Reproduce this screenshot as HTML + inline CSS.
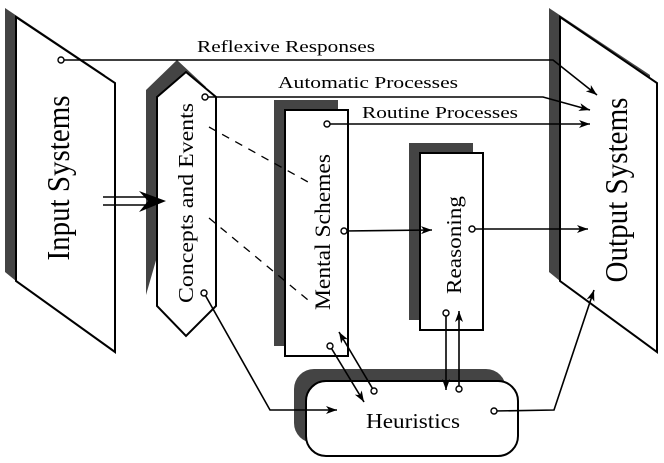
<!DOCTYPE html>
<html><head><meta charset="utf-8"><style>html,body{margin:0;padding:0;background:#fff}svg{display:block}text{font-family:"Liberation Serif","DejaVu Serif",serif;fill:#000}</style></head><body>
<svg width="664" height="463" viewBox="0 0 664 463" xmlns="http://www.w3.org/2000/svg">
<defs>
<marker id="a" markerWidth="12" markerHeight="8" refX="11" refY="4" orient="auto" markerUnits="userSpaceOnUse"><path d="M0,0 L11,4 L0,8 L3,4 Z" fill="#000"/></marker>
</defs>
<polygon points="5,8 105,75 105,90 16,281 5,272" fill="#444"/>
<polygon points="16,17 115,83 115,352 16,281" fill="#fff" stroke="#000" stroke-width="2"/>
<polygon points="177,60 206,87 146,295 146,90" fill="#444"/>
<polygon points="157,97 186,72 216,97 216,306 186,336 157,306" fill="#fff" stroke="#000" stroke-width="2"/>
<rect x="274" y="100" width="64" height="246" fill="#444"/>
<rect x="285" y="110" width="63" height="246" fill="#fff" stroke="#000" stroke-width="2"/>
<rect x="409" y="143" width="64" height="177" fill="#444"/>
<rect x="420" y="153" width="63" height="177" fill="#fff" stroke="#000" stroke-width="2"/>
<polygon points="549,8 650,75 650,90 560,281 549,272" fill="#444"/>
<polygon points="560,17 657,83 657,352 560,281" fill="#fff" stroke="#000" stroke-width="2"/>
<rect x="294" y="369" width="212" height="74" rx="20" fill="#444"/>
<rect x="306" y="381" width="212" height="75" rx="20" fill="#fff" stroke="#000" stroke-width="2"/>
<g stroke="#000" stroke-width="1.6" fill="none">
<line x1="209" y1="127" x2="308" y2="182" stroke-dasharray="8,7" stroke-width="1.3"/>
<line x1="209" y1="218" x2="308" y2="300" stroke-dasharray="8,7" stroke-width="1.3"/>
<polyline points="61,60 553,60 597,95" marker-end="url(#a)"/>
<polyline points="205,97 543,97 590,110" marker-end="url(#a)"/>
<line x1="327" y1="124" x2="590" y2="124" marker-end="url(#a)"/>
<line x1="344" y1="231" x2="432" y2="230" marker-end="url(#a)"/>
<line x1="472" y1="229" x2="588" y2="229" marker-end="url(#a)"/>
<polyline points="204,293 270,410 337,410" marker-end="url(#a)"/>
<line x1="330" y1="346" x2="364" y2="402" marker-end="url(#a)"/>
<line x1="374" y1="391" x2="339" y2="332" marker-end="url(#a)"/>
<line x1="446" y1="313" x2="446" y2="390" marker-end="url(#a)"/>
<line x1="459" y1="389" x2="459" y2="311" marker-end="url(#a)"/>
<polyline points="494,411 554,410 594,290" marker-end="url(#a)"/>
<line x1="103" y1="197" x2="150" y2="197"/>
<line x1="103" y1="205" x2="150" y2="205"/>
</g>
<path d="M139,191 L166,201 L139,212 L148,201 Z" fill="#000"/>
<g fill="#fff" stroke="#000" stroke-width="1.4">
<circle cx="61" cy="60" r="3"/><circle cx="205" cy="97" r="3"/><circle cx="327" cy="124" r="3"/>
<circle cx="344" cy="231" r="3"/><circle cx="472" cy="229" r="3"/><circle cx="204" cy="293" r="3"/>
<circle cx="330" cy="346" r="3"/><circle cx="374" cy="391" r="3"/><circle cx="446" cy="313" r="3"/>
<circle cx="459" cy="389" r="3"/><circle cx="494" cy="411" r="3"/>
</g>
<text x="197" y="52" font-size="17" textLength="178" lengthAdjust="spacingAndGlyphs">Reflexive Responses</text>
<text x="278" y="88" font-size="17" textLength="180" lengthAdjust="spacingAndGlyphs">Automatic Processes</text>
<text x="362" y="118" font-size="17" textLength="156" lengthAdjust="spacingAndGlyphs">Routine Processes</text>
<text transform="translate(69,178) rotate(-90)" text-anchor="middle" font-size="32" textLength="165" lengthAdjust="spacingAndGlyphs">Input Systems</text>
<text transform="translate(193,203) rotate(-90)" text-anchor="middle" font-size="21" textLength="200" lengthAdjust="spacingAndGlyphs">Concepts and Events</text>
<text transform="translate(330,232) rotate(-90)" text-anchor="middle" font-size="22" textLength="156" lengthAdjust="spacingAndGlyphs">Mental Schemes</text>
<text transform="translate(461,245) rotate(-90)" text-anchor="middle" font-size="21" textLength="98" lengthAdjust="spacingAndGlyphs">Reasoning</text>
<text transform="translate(627,190) rotate(-90)" text-anchor="middle" font-size="32" textLength="185" lengthAdjust="spacingAndGlyphs">Output Systems</text>
<text x="366" y="428" font-size="21" textLength="94" lengthAdjust="spacingAndGlyphs">Heuristics</text>
</svg>
</body></html>
